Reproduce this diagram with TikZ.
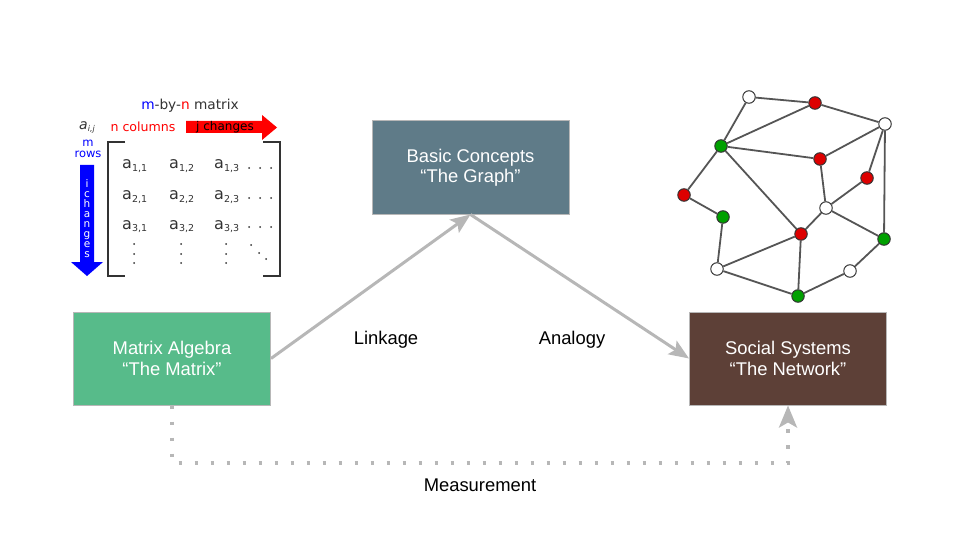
\documentclass[tikz,border=0pt]{standalone}
\usepackage{fontspec}
\setmainfont{Liberation Sans}
\newfontfamily\mfont{DejaVu Sans}
\usetikzlibrary{arrows.meta}
\definecolor{boxblue}{HTML}{5F7B88}
\definecolor{boxgreen}{HTML}{57BB8A}
\definecolor{boxbrown}{HTML}{5D4037}
\definecolor{arrgray}{HTML}{B7B7B7}
\definecolor{bordergray}{HTML}{B7B7B7}
\definecolor{netred}{HTML}{DD0000}
\definecolor{netgreen}{HTML}{00A000}
\definecolor{mtext}{HTML}{333333}
\definecolor{edgegray}{HTML}{555555}
\newcommand{\entry}[1]{{\fontsize{16}{16}\selectfont a}\raisebox{-2pt}{\fontsize{9.5}{9.5}\selectfont #1}}
\tikzset{
  box/.style={draw=bordergray, line width=1pt, minimum width=197pt, minimum height=93pt,
    text=white, font=\fontsize{18.4}{20.5}\selectfont, align=center, inner sep=0pt},
  flow/.style={draw=arrgray, line width=3pt, -{Stealth[length=20pt,width=16pt,inset=4pt]}},
  meas/.style={draw=arrgray, line width=3.5pt, dash pattern=on 3.5pt off 12.5pt,
    -{Stealth[length=22pt,width=18pt,inset=5pt]}},
  lbl/.style={font=\fontsize{18.4}{21}\selectfont, text=black, inner sep=0pt},
  vtx/.style={circle, draw=mtext, line width=1pt, minimum size=12.5pt, inner sep=0pt},
  wv/.style={vtx, fill=white},
  rv/.style={vtx, fill=netred},
  gv/.style={vtx, fill=netgreen},
  net/.style={draw=edgegray, line width=1.8pt},
  ent/.style={anchor=base west, inner sep=0pt, text=mtext, font=\mfont},
  mdot/.style={fill=mtext, draw=none},
}
\begin{document}
\begin{tikzpicture}[x=1pt, y=-1pt]
\useasboundingbox (0,0) rectangle (960,540);

% boxes
\node[box, fill=boxblue] (bc) at (470.5,167.5) {Basic Concepts\\“The Graph”};
\node[box, fill=boxgreen] (ma) at (172,358.5) {Matrix Algebra\\“The Matrix”};
\node[box, fill=boxbrown] (ss) at (788,358.5) {Social Systems\\“The Network”};

% flows
\draw[flow] (ma.east) -- (bc.south);
\draw[flow] (bc.south) -- (ss.west);
\coordinate (mc) at (172,463);
\draw[meas] (ma.south) -- (mc) -| (ss.south);

\node[lbl] (lk) at (386,340) {Linkage};
\node[lbl] (an) at (572,340) {Analogy};
\node[lbl] (me) at (480,485) {Measurement};

% matrix illustration
\node[inner sep=0pt, font=\mfont\fontsize{13.7}{14}\selectfont, text=mtext] (mt) at (190,106)
  {\textcolor{blue}{m}-by-\textcolor{red}{n} matrix};
\node[inner sep=0pt, font=\mfont\fontsize{12.6}{13}\selectfont, text=red] (nc) at (143,127) {n columns};
\node[inner sep=0pt, font=\mfont, text=mtext] (aij) at (87,127)
  {{\itshape\fontsize{14}{14}\selectfont a}\raisebox{-2pt}{\itshape\fontsize{8}{8}\selectfont i,j}};
\node[inner sep=0pt, font=\mfont\fontsize{11.5}{11.5}\selectfont, text=blue, align=center] (mr) at (88,149) {m\\rows};

% red arrow
\fill[red] (186,121) -- (262,121) -- (262,115) -- (277,127.5) -- (262,140) -- (262,133) -- (186,133) -- cycle;
\node[inner sep=0pt, font=\mfont\fontsize{12}{12}\selectfont, text=black] (jc) at (225,127) {j changes};

% blue arrow
\fill[blue] (80,165) -- (94,165) -- (94,262) -- (103,262) -- (87,276) -- (71,262) -- (80,262) -- cycle;
\node[inner sep=0pt, font=\mfont\fontsize{10.5}{10}\selectfont, text=white, align=center] (ic) at (87,219)
  {i\\c\\h\\a\\n\\g\\e\\s};

% brackets
\draw[mtext, line width=1.3pt] (125,142) -- (108,142) -- (108,276) -- (125,276);
\draw[mtext, line width=1.3pt] (263,142) -- (280,142) -- (280,276) -- (263,276);

% entries
\node[ent] (e11) at (122,169) {\entry{1,1}};
\node[ent] (e12) at (169,169) {\entry{1,2}};
\node[ent] (e13) at (214,169) {\entry{1,3}};
\node[ent] (e21) at (122,200) {\entry{2,1}};
\node[ent] (e22) at (169,200) {\entry{2,2}};
\node[ent] (e23) at (214,200) {\entry{2,3}};
\node[ent] (e31) at (122,229) {\entry{3,1}};
\node[ent] (e32) at (169,229) {\entry{3,2}};
\node[ent] (e33) at (214,229) {\entry{3,3}};

\foreach \y in {168,198,227} {
  \foreach \x in {249,260,271} { \fill[mdot] (\x,\y) circle (1pt); }
}
\foreach \x in {134,181,226} {
  \foreach \y in {244,254,263} { \fill[mdot] (\x,\y) circle (1pt); }
}
\fill[mdot] (251,245) circle (1pt);
\fill[mdot] (259,253) circle (1pt);
\fill[mdot] (266,259) circle (1pt);

% network
\node[wv] (A) at (749,97) {};
\node[rv] (B) at (815,103) {};
\node[wv] (C) at (885,124) {};
\node[gv] (D) at (721,146) {};
\node[rv] (E) at (820,159) {};
\node[rv] (F) at (867,178) {};
\node[rv] (G) at (684,195) {};
\node[gv] (H) at (723,217) {};
\node[wv] (I) at (826,208) {};
\node[rv] (J) at (801,234) {};
\node[gv] (K) at (884,239) {};
\node[wv] (L) at (717,269) {};
\node[wv] (M) at (850,271) {};
\node[gv] (N) at (798,296) {};

\foreach \a/\b in {A/B, A/D, B/D, B/C, D/E, E/C, D/G, G/H, H/L, D/J, C/F, C/K, E/I, F/I, I/J, I/K, J/L, J/N, L/N, N/M, M/K}
  \draw[net] (\a) -- (\b);
\end{tikzpicture}
\end{document}
